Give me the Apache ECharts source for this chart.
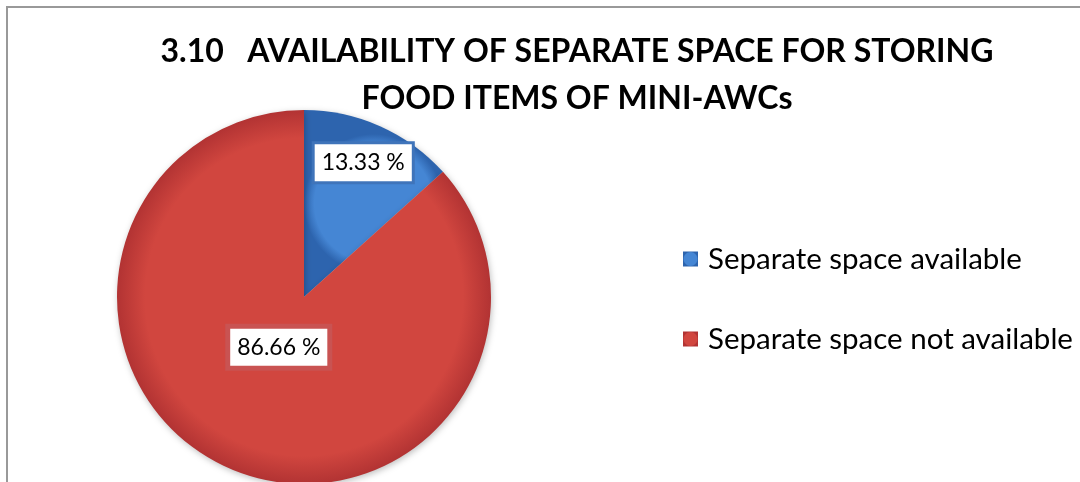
<!DOCTYPE html>
<html>
<head>
<meta charset="utf-8">
<title>Separate space for storing food items</title>
<script src="https://cdn.jsdelivr.net/npm/echarts@6/dist/echarts.min.js"></script>
<style>
  html, body { margin: 0; padding: 0; background: #fff; }
  #frame { position: absolute; left: 6px; top: 6px; width: 1080px; height: 482px;
           border-top: 2px solid #999; border-left: 2px solid #999; }
  #pie { position: absolute; left: 0; top: 0; width: 1080px; height: 482px; }
</style>
</head>
<body>
<div id="frame"></div>
<div id="pie"></div>
<script>
// 数据
var categories = ['Separate space available', 'Separate space not available'];
var percents = [13.33, 86.66];
var labelTexts = ['13.33 %', '86.66 %'];

// 颜色
var sliceInner = ['#4586d4', '#d1463f'];
var sliceOuter = ['#2d64ae', '#b23333'];
var labelBorder = ['#3f74ba', '#c95352'];
// 标签相对默认位置的偏移
var labelShift = [[20, -46], [14, -38]];

var pieData = [];
for (var i = 0; i < categories.length; i++) {
  pieData.push({
    name: categories[i],
    value: percents[i],
    itemStyle: {
      color: new echarts.graphic.RadialGradient(0.5, 0.5, 0.5, [
        { offset: 0, color: sliceInner[i] },
        { offset: 0.85, color: sliceInner[i] },
        { offset: 1, color: sliceOuter[i] }
      ], false)
    },
    label: {
      borderColor: labelBorder[i],
      borderWidth: i === 0 ? 3 : 5
    }
  });
}

var myChart = echarts.init(document.getElementById('pie'));
var option = {
  animation: false,
  title: {
    text: '3.10   AVAILABILITY OF SEPARATE SPACE FOR STORING\nFOOD ITEMS OF MINI-AWCs',
    left: 577,
    top: 28,
    padding: 0,
    textAlign: 'center',
    textStyle: {
      fontFamily: 'Lato',
      fontWeight: 'bold',
      fontSize: 32,
      lineHeight: 47,
      color: '#000'
    }
  },
  legend: {
    orient: 'vertical',
    left: 683,
    top: 242,
    padding: 0,
    itemWidth: 15,
    itemHeight: 15,
    itemGap: 46,
    icon: 'rect',
    data: categories,
    textStyle: {
      fontFamily: 'Lato',
      fontSize: 29.5,
      lineHeight: 34,
      color: '#000',
      padding: [0, 0, 0, 5]
    }
  },
  series: [
    {
      name: 'Separate space',
      type: 'pie',
      center: [304, 297],
      radius: 187,
      startAngle: 90,
      clockwise: true,
      data: pieData,
      itemStyle: {
        shadowBlur: 6,
        shadowColor: 'rgba(0,0,0,0.25)',
        shadowOffsetX: 1,
        shadowOffsetY: 2
      },
      label: {
        show: true,
        position: 'inside',
        formatter: function (params) {
          return labelTexts[params.dataIndex];
        },
        fontFamily: 'Lato',
        fontSize: 23,
        color: '#000',
        backgroundColor: '#fff',
        padding: [8, 7, 6, 7]
      },
      labelLayout: function (params) {
        return {
          dx: labelShift[params.dataIndex][0],
          dy: labelShift[params.dataIndex][1]
        };
      },
      labelLine: { show: false },
      emphasis: { disabled: true }
    }
  ]
};
myChart.setOption(option);
</script>
</body>
</html>
